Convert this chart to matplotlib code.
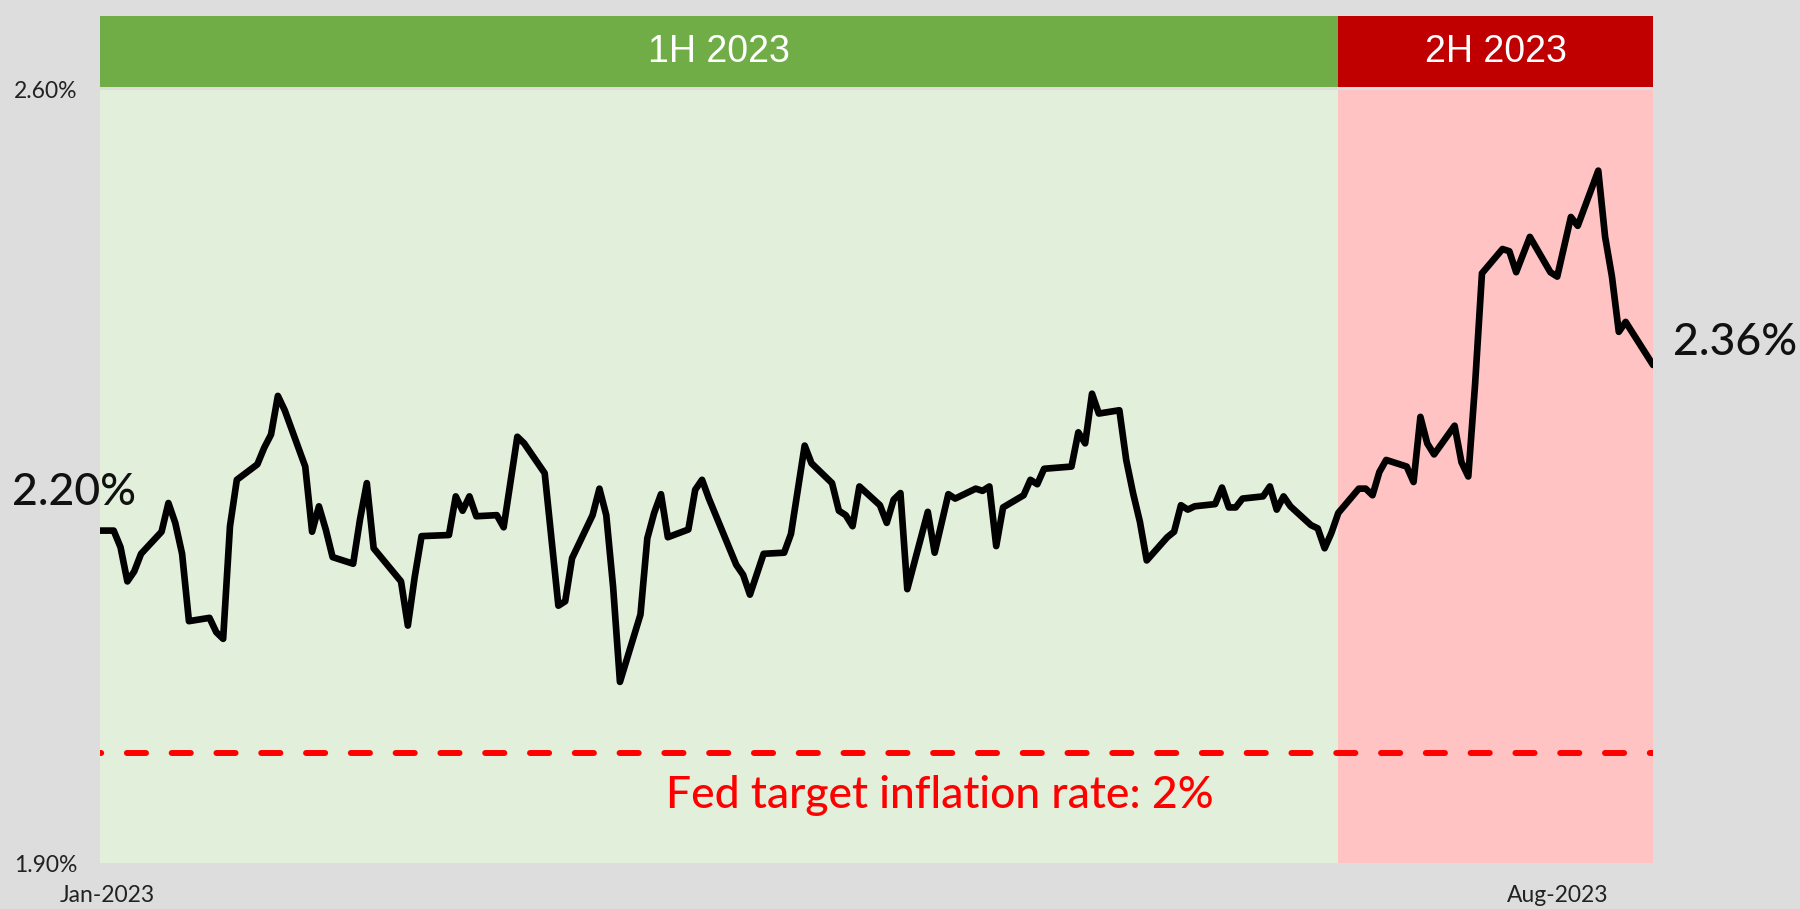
import matplotlib
matplotlib.use("Agg")
import matplotlib.pyplot as plt
import matplotlib.dates as mdates
import pandas as pd

# ---------------- data ----------------
dates = [
    "2022-12-31", "2023-01-02", "2023-01-03", "2023-01-04", "2023-01-05", "2023-01-06",
    "2023-01-09", "2023-01-10", "2023-01-11", "2023-01-12", "2023-01-13",
    "2023-01-16", "2023-01-17", "2023-01-18", "2023-01-19", "2023-01-20",
    "2023-01-23", "2023-01-24", "2023-01-25", "2023-01-26", "2023-01-27",
    "2023-01-30", "2023-01-31", "2023-02-01", "2023-02-02", "2023-02-03",
    "2023-02-06", "2023-02-07", "2023-02-08", "2023-02-09",
    "2023-02-13", "2023-02-14", "2023-02-15", "2023-02-16",
    "2023-02-20", "2023-02-21", "2023-02-22", "2023-02-23", "2023-02-24",
    "2023-02-27", "2023-02-28", "2023-03-02", "2023-03-03",
    "2023-03-06", "2023-03-08", "2023-03-09", "2023-03-10",
    "2023-03-13", "2023-03-14", "2023-03-15", "2023-03-16", "2023-03-17",
    "2023-03-20", "2023-03-21", "2023-03-22", "2023-03-23", "2023-03-24",
    "2023-03-27", "2023-03-28", "2023-03-29", "2023-03-30", "2023-03-31",
    "2023-04-03", "2023-04-04", "2023-04-05", "2023-04-07",
    "2023-04-10", "2023-04-11", "2023-04-13", "2023-04-14",
    "2023-04-17", "2023-04-18", "2023-04-19", "2023-04-20", "2023-04-21",
    "2023-04-24", "2023-04-25", "2023-04-26", "2023-04-27", "2023-04-28",
    "2023-05-01", "2023-05-02", "2023-05-04", "2023-05-05",
    "2023-05-08", "2023-05-09", "2023-05-10", "2023-05-11", "2023-05-12",
    "2023-05-15", "2023-05-16", "2023-05-17", "2023-05-18",
    "2023-05-22", "2023-05-23", "2023-05-24", "2023-05-25", "2023-05-26",
    "2023-05-29", "2023-05-30", "2023-05-31", "2023-06-01", "2023-06-02",
    "2023-06-05", "2023-06-06", "2023-06-07", "2023-06-08", "2023-06-09",
    "2023-06-12", "2023-06-13", "2023-06-14", "2023-06-15", "2023-06-16",
    "2023-06-19", "2023-06-20", "2023-06-21", "2023-06-22", "2023-06-23",
    "2023-06-26", "2023-06-27", "2023-06-28", "2023-06-29", "2023-06-30",
    "2023-07-03", "2023-07-04", "2023-07-05", "2023-07-06", "2023-07-07",
    "2023-07-10", "2023-07-11", "2023-07-12", "2023-07-13", "2023-07-14",
    "2023-07-17", "2023-07-18", "2023-07-19", "2023-07-20", "2023-07-21",
    "2023-07-24", "2023-07-25", "2023-07-26", "2023-07-28",
    "2023-07-31", "2023-08-01", "2023-08-03", "2023-08-04",
    "2023-08-07", "2023-08-08", "2023-08-09", "2023-08-10", "2023-08-11",
    "2023-08-15",
]
values = [
    2.201, 2.201, 2.186, 2.155, 2.164, 2.180,
    2.200, 2.226, 2.208, 2.180, 2.119,
    2.122, 2.109, 2.103, 2.205, 2.247,
    2.261, 2.276, 2.288, 2.323, 2.310,
    2.259, 2.200, 2.223, 2.202, 2.177,
    2.171, 2.211, 2.244, 2.185,
    2.155, 2.115, 2.159, 2.196,
    2.197, 2.232, 2.219, 2.232, 2.214,
    2.215, 2.204, 2.286, 2.280,
    2.253, 2.133, 2.137, 2.176,
    2.215, 2.239, 2.215, 2.150, 2.064,
    2.125, 2.194, 2.217, 2.234, 2.195,
    2.202, 2.238, 2.247, 2.230, 2.215,
    2.170, 2.161, 2.143, 2.180,
    2.181, 2.198, 2.278, 2.262,
    2.244, 2.219, 2.215, 2.205, 2.241,
    2.224, 2.208, 2.229, 2.235, 2.148,
    2.218, 2.181, 2.234, 2.230,
    2.239, 2.237, 2.241, 2.187, 2.222,
    2.233, 2.247, 2.243, 2.257,
    2.259, 2.290, 2.280, 2.325, 2.307,
    2.310, 2.265, 2.235, 2.209, 2.174,
    2.195, 2.200, 2.224, 2.220, 2.223,
    2.225, 2.240, 2.222, 2.222, 2.230,
    2.232, 2.241, 2.220, 2.232, 2.223,
    2.206, 2.203, 2.185, 2.199, 2.217,
    2.239, 2.239, 2.233, 2.254, 2.265,
    2.259, 2.245, 2.304, 2.280, 2.270,
    2.296, 2.263, 2.250, 2.334, 2.434,
    2.456, 2.454, 2.435, 2.467,
    2.435, 2.431, 2.485, 2.477,
    2.527, 2.467, 2.431, 2.381, 2.390,
    2.351,
]
half_split = "2023-06-30"
period_labels = ["1H 2023", "2H 2023"]
target_rate = 2.00
target_label = "Fed target inflation rate: 2%"
y_ticks = [1.90, 2.60]
y_tick_labels = ["1.90%", "2.60%"]
x_ticks = ["2023-01-01", "2023-08-01"]
x_tick_labels = ["Jan-2023", "Aug-2023"]
start_label = "2.20%"
end_label = "2.36%"

# ---------------- style ----------------
plt.rcParams['font.family'] = ['Lato', 'DejaVu Sans']
BG = "#DDDDDD"
GREEN_HDR = "#70AD47"
GREEN_FILL = "#E2EFDA"
RED_HDR = "#C00000"
PINK_FILL = "#FFC3C3"

W, H = 1800, 909
fig = plt.figure(figsize=(W / 100, H / 100), dpi=100, facecolor=BG)
L, R, T, B = 100, 1653, 90, 863
ax = fig.add_axes([L / W, 1 - B / H, (R - L) / W, (B - T) / H])
ax.set_facecolor("none")

x = pd.to_datetime(dates)
x0, x1 = x[0], x[-1]
xs = pd.Timestamp(half_split)

ax.set_xlim(x0, x1)
ax.set_ylim(1.90, 2.60)

# background periods
ax.axvspan(x0, xs, color=GREEN_FILL, lw=0, zorder=0)
ax.axvspan(xs, x1, color=PINK_FILL, lw=0, zorder=0)

# headers above the plot
trans = ax.get_xaxis_transform()
hdr_lo = (B - 87) / (B - T)
hdr_hi = (B - 16) / (B - T)
n0, ns, n1 = mdates.date2num(x0), mdates.date2num(xs), mdates.date2num(x1)
for a, b, col, lab in [(n0, ns, GREEN_HDR, period_labels[0]),
                       (ns, n1, RED_HDR, period_labels[1])]:
    ax.add_patch(plt.Rectangle((a, hdr_lo), b - a, hdr_hi - hdr_lo,
                               transform=trans, color=col, lw=0,
                               clip_on=False, zorder=1))
    ax.text((a + b) / 2, (hdr_lo + hdr_hi) / 2, lab, transform=trans,
            ha="center", va="center", color="white", fontsize=27,
            family=["Liberation Sans", "DejaVu Sans"], zorder=2)

# target line
ax.axhline(target_rate, color="#FF0000", lw=4.3,
           linestyle=(3.0, (3.2, 4.3)), dash_capstyle="round", zorder=2)
ax.text(0.5406, (B - 808) / (B - T), target_label, transform=ax.transAxes,
        ha="center", va="baseline", color="#FF0000", fontsize=32,
        fontweight="medium")

# main series
ax.plot(x, values, color="black", lw=4.8, solid_joinstyle="round",
        solid_capstyle="round", zorder=3)

# ticks
ax.set_yticks(y_ticks)
ax.set_yticklabels(y_tick_labels)
ax.set_xticks(pd.to_datetime(x_ticks))
ax.set_xticklabels(x_tick_labels)
ax.tick_params(axis="y", length=0, pad=16.5, labelsize=16.5, labelcolor="#222222")
ax.tick_params(axis="x", length=0, pad=15.5, labelsize=16.5, labelcolor="#222222")
for s in ax.spines.values():
    s.set_visible(False)

# end annotations
fig.text(11.5 / W, 1 - 505 / H, start_label, ha="left", va="baseline",
         fontsize=32, color="#111111", fontweight="medium")
fig.text(1673 / W, 1 - 355 / H, end_label, ha="left", va="baseline",
         fontsize=32, color="#111111", fontweight="medium")

fig.savefig("out.png", dpi=100, facecolor=BG)
